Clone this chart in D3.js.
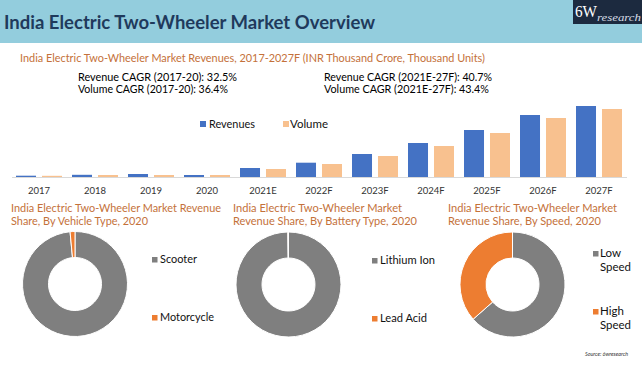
<!DOCTYPE html>
<html><head><meta charset="utf-8">
<script src="https://cdn.jsdelivr.net/npm/d3@7"></script>
<style>body{margin:0;background:#fff}svg{display:block}text{font-family:Lato,"Open Sans",sans-serif}</style>
</head><body>
<svg id="c" width="642" height="375"></svg>
<script>
const categories = ["2017","2018","2019","2020","2021E","2022F","2023F","2024F","2025F","2026F","2027F"];
const revenues = [0.13,0.22,0.3,0.2,0.9,1.43,2.3,3.4,4.7,6.2,7.1];
const volume   = [0.12,0.2,0.2,0.2,0.8,1.3,2.1,3.1,4.4,5.9,6.8];
const seriesNames = ["Revenues","Volume"];
const vehicleLabels = ["Scooter","Motorcycle"];
const vehicleShare = [98.5,1.5];
const batteryLabels = ["Lithium Ion","Lead Acid"];
const batteryShare = [99.8,0.2];
const speedLabels = ["Low Speed","High Speed"];
const speedShare = [63.5,36.5];

const svg = d3.select("#c");
const ORANGE_T = "#c4713a";
function txt(g, x, y, s, size, opts={}) {
  const t = g.append("text").attr("x", x).attr("y", y).text(s)
    .attr("font-size", size).attr("fill", opts.fill || "#000");
  if (opts.weight) t.attr("font-weight", opts.weight);
  if (opts.anchor) t.attr("text-anchor", opts.anchor);
  if (opts.style) t.attr("font-style", opts.style);
  if (opts.family) t.style("font-family", opts.family);
  if (opts.w) t.attr("textLength", opts.w).attr("lengthAdjust", "spacingAndGlyphs");
  return t;
}

// Header band
svg.append("rect").attr("x",0).attr("y",0).attr("width",642).attr("height",43).attr("fill","#93cddd");
txt(svg, 4, 29, "India Electric Two-Wheeler Market Overview", 18.5, {fill:"#1f3a5c", weight:700, w:371});
// logo
svg.append("rect").attr("x",573).attr("y",0).attr("width",69).attr("height",24).attr("fill","#1c2a3f");
txt(svg, 575, 17, "6W", 17, {fill:"#fff", family:"'Liberation Serif',serif", w:22});
txt(svg, 597, 21, "research", 10, {fill:"#d8dde6", style:"italic", family:"'Liberation Serif',serif", w:44});

// Subtitle & CAGR
txt(svg, 20, 62, "India Electric Two-Wheeler Market Revenues, 2017-2027F (INR Thousand Crore, Thousand Units)", 11, {fill:ORANGE_T, w:465});
txt(svg, 78, 81, "Revenue CAGR (2017-20): 32.5%", 11, {w:159});
txt(svg, 78, 93, "Volume CAGR (2017-20): 36.4%", 11, {w:150});
txt(svg, 324, 81, "Revenue CAGR (2021E-27F): 40.7%", 11, {w:168});
txt(svg, 324, 93, "Volume CAGR (2021E-27F): 43.4%", 11, {w:165});

// Bar chart
const barColors = ["#4472c4","#f8c18f"];
const x0 = d3.scaleBand().domain(categories).range([11,627]).padding(0);
const x1 = d3.scaleBand().domain(seriesNames).range([5,51]).paddingInner(0.23).paddingOuter(0);
const y = d3.scaleLinear().domain([0,8]).range([177,97]);
const data = categories.map((c,i)=>({c, vals:[revenues[i], volume[i]]}));
const gb = svg.append("g");
const grp = gb.selectAll("g.cat").data(data).join("g").attr("transform", d=>`translate(${x0(d.c)},0)`);
grp.selectAll("rect").data(d=>d.vals.map((v,j)=>({k:seriesNames[j], v, j}))).join("rect")
  .attr("x", d=>x1(d.k)).attr("width", x1.bandwidth())
  .attr("y", d=>y(d.v)).attr("height", d=>y(0)-y(d.v)).attr("fill", d=>barColors[d.j]);
const xAxis = d3.axisBottom(x0).tickSize(0).tickPadding(0);
const ax = svg.append("g").attr("transform","translate(0,177)").call(xAxis);
ax.select(".domain").attr("stroke","#d9d9d9").attr("d","M12,0.5H627");
ax.selectAll("text").attr("font-size",9.5).attr("fill","#333").attr("dy",0).attr("y",17)
  .style("font-family","Lato,sans-serif");
// bar legend
const legX = [200, 283], legTX=[209, 290], legW=[46,38];
seriesNames.forEach((n,i)=>{
  svg.append("rect").attr("x",legX[i]).attr("y",121).attr("width",6).attr("height",6).attr("fill",barColors[i]);
  txt(svg, legTX[i], 128, n, 10.5, {fill:"#111", w:legW[i]});
});

// Donuts
const donutColors = ["#7f7f7f","#ed7d31"];
const pie = d3.pie().sort(null);
const arc = d3.arc().innerRadius(26.5).outerRadius(52.5);
function donut(cx, cy, vals) {
  const g = svg.append("g").attr("transform",`translate(${cx},${cy})`);
  g.selectAll("path").data(pie(vals)).join("path").attr("d",arc)
    .attr("fill",(d,i)=>donutColors[i]).attr("stroke","#fff").attr("stroke-width",1);
}
donut(75, 284, vehicleShare);
donut(288.5, 284.5, batteryShare);
donut(512.5, 284.5, speedShare);

// donut titles
const TS = 11;
txt(svg, 11, 211.5, "India Electric Two-Wheeler Market Revenue", TS, {fill:ORANGE_T, w:210});
txt(svg, 11, 225, "Share, By Vehicle Type, 2020", TS, {fill:ORANGE_T, w:137});
txt(svg, 233, 211.5, "India Electric Two-Wheeler Market", TS, {fill:ORANGE_T, w:169});
txt(svg, 233, 225, "Revenue Share, By Battery Type, 2020", TS, {fill:ORANGE_T, w:184});
txt(svg, 448, 211.5, "India Electric Two-Wheeler Market", TS, {fill:ORANGE_T, w:169});
txt(svg, 448, 225, "Revenue Share, By Speed, 2020", TS, {fill:ORANGE_T, w:153});

// donut legends
function sq(x,y,c){ svg.append("rect").attr("x",x).attr("y",y).attr("width",5.5).attr("height",5.5).attr("fill",c); }
sq(152,257,donutColors[0]); txt(svg,160,263,vehicleLabels[0],11.5,{fill:"#111",w:37});
sq(152,315,donutColors[1]); txt(svg,160,321,vehicleLabels[1],11.5,{fill:"#111",w:54});
sq(372,258,donutColors[0]); txt(svg,380,264,batteryLabels[0],11.5,{fill:"#111",w:55});
sq(372,316,donutColors[1]); txt(svg,380,322,batteryLabels[1],11.5,{fill:"#111",w:47});
[[speedLabels[0],251,257,271],[speedLabels[1],309,315,329]].forEach((r,i)=>{
  sq(593,r[1],donutColors[i]);
  const parts = r[0].split(" ");
  txt(svg,600,r[2],parts[0],11.5,{fill:"#111"});
  txt(svg,600,r[3],parts[1],11.5,{fill:"#111",w:31});
});

// source
txt(svg, 585, 356, "Source: 6wresearch", 5, {fill:"#333", style:"italic", w:43});
</script>
</body></html>
